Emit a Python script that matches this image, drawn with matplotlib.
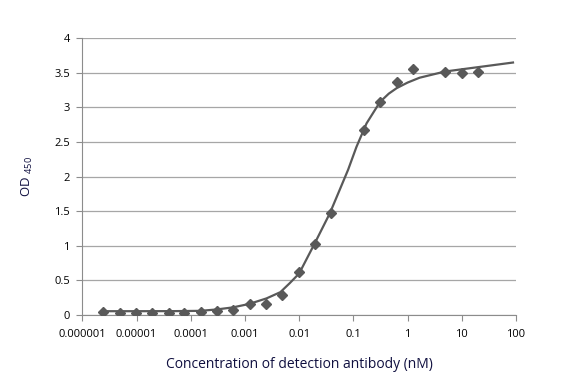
import matplotlib
matplotlib.use("Agg")
import matplotlib.pyplot as plt
from matplotlib.ticker import FixedLocator, NullLocator

plt.rcParams['font.family'] = ['Open Sans', 'DejaVu Sans']

# measured points (2-fold dilution series, nM)
conc = [2.44e-6, 4.88e-6, 9.77e-6, 1.95e-5, 3.91e-5, 7.63e-5, 1.53e-4, 3.05e-4,
        6.1e-4, 1.22e-3, 2.44e-3, 4.88e-3, 9.77e-3, 1.95e-2, 3.91e-2,
        0.156, 0.3125, 0.625, 1.25, 5, 10, 20]
od = [0.05, 0.025, 0.025, 0.025, 0.025, 0.025, 0.04, 0.06,
      0.07, 0.155, 0.165, 0.285, 0.62, 1.03, 1.47,
      2.67, 3.08, 3.37, 3.56, 3.52, 3.50, 3.51]

# fitted curve
fit_x = [2.3e-6, 1e-5, 5e-5, 1.5e-4, 3e-4, 6e-4, 1.2e-3, 2.5e-3, 4.5e-3, 6.7e-3,
         0.01, 0.0195, 0.0368, 0.056, 0.08, 0.114, 0.175, 0.31, 0.45, 0.63,
         1.0, 1.66, 4.9, 18.6, 88]
fit_y = [0.055, 0.055, 0.056, 0.06, 0.08, 0.11, 0.16, 0.24, 0.33, 0.46,
         0.6, 1.04, 1.47, 1.81, 2.10, 2.43, 2.77, 3.08, 3.20, 3.28,
         3.36, 3.43, 3.52, 3.58, 3.65]

xticks = [1e-6, 1e-5, 1e-4, 1e-3, 1e-2, 1e-1, 1, 10, 100]
xtick_labels = ['0.000001', '0.00001', '0.0001', '0.001', '0.01', '0.1', '1', '10', '100']
yticks = [0, 0.5, 1, 1.5, 2, 2.5, 3, 3.5, 4]
ytick_labels = ['0', '0.5', '1', '1.5', '2', '2.5', '3', '3.5', '4']

fig = plt.figure(figsize=(5.82, 3.82), dpi=100)
ax = fig.add_axes([0.1414, 0.1754, 0.7452, 0.7243])

ax.plot(fit_x, fit_y, color='#595959', lw=1.6, zorder=3)
ax.plot(conc, od, linestyle='none', marker='D', ms=5.5, color='#595959', zorder=4)

ax.set_xscale('log')
ax.set_xlim(1e-6, 100)
ax.set_ylim(0, 4)
ax.xaxis.set_major_locator(FixedLocator(xticks))
ax.xaxis.set_minor_locator(NullLocator())
ax.set_xticklabels(xtick_labels)
ax.set_yticks(yticks)
ax.set_yticklabels(ytick_labels)

ax.grid(axis='y', color='#a6a6a6', lw=0.9)
ax.set_axisbelow(True)
for s in ['top', 'right']:
    ax.spines[s].set_visible(False)
for s in ['left', 'bottom']:
    ax.spines[s].set_color('#8c8c8c')
ax.tick_params(axis='both', colors='#8c8c8c', labelcolor='black', labelsize=8,
               length=4, width=0.8)
ax.tick_params(axis='x', pad=6)
ax.tick_params(axis='y', pad=5)

ax.set_xlabel('Concentration of detection antibody (nM)', fontsize=10,
              color='#101040', labelpad=12)
ax.set_ylabel(r'OD $\mathregular{_{450}}$', fontsize=9.5, color='#101040', labelpad=14)

fig.savefig('out.png', dpi=100)
